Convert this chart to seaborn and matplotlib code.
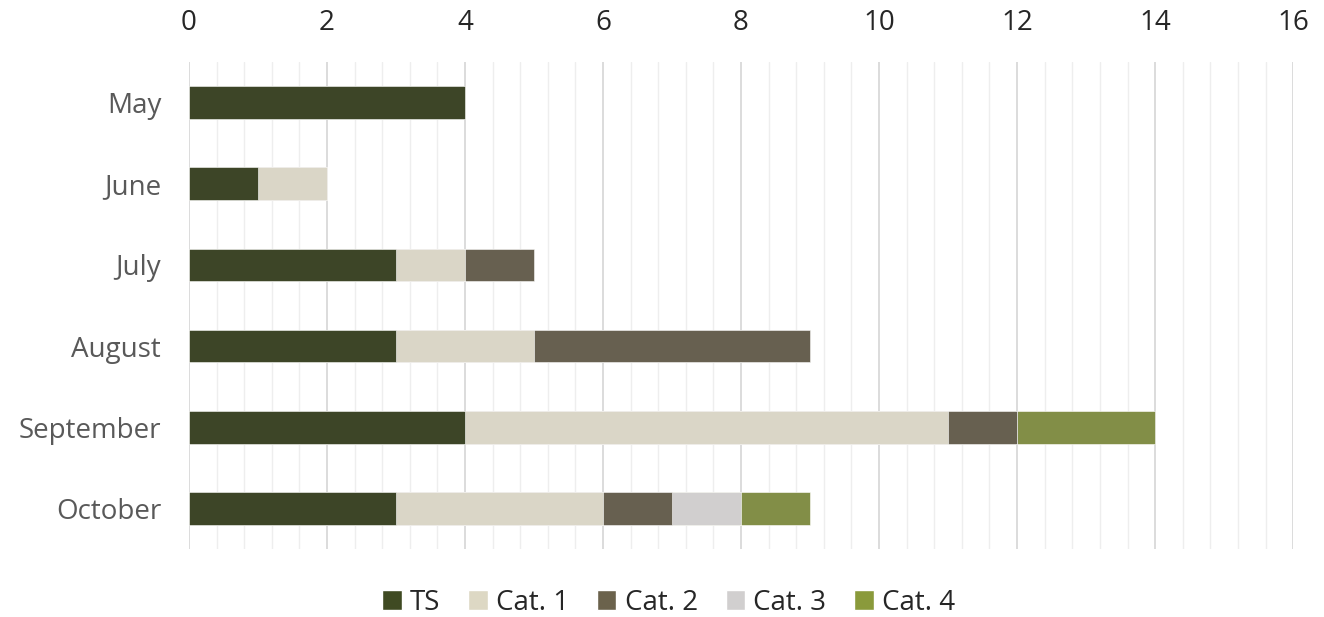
import numpy as np
import pandas as pd
import matplotlib
matplotlib.use('Agg')
import matplotlib.pyplot as plt
import seaborn as sns
from matplotlib.patches import Patch

# DATA
months = ['May', 'June', 'July', 'August', 'September', 'October']
series = ['TS', 'Cat. 1', 'Cat. 2', 'Cat. 3', 'Cat. 4']
ts = [4, 1, 3, 3, 4, 3]
cat1 = [0, 1, 1, 2, 7, 3]
cat2 = [0, 0, 1, 4, 1, 1]
cat3 = [0, 0, 0, 0, 0, 1]
cat4 = [0, 0, 0, 0, 2, 1]
colors = ['#3f4a22', '#ddd8c4', '#6b624c', '#d1cfcf', '#8a9a3b']

sns.set_style('white')
plt.rcParams['font.family'] = ['Open Sans', 'DejaVu Sans']

df = pd.DataFrame({'month': months, 'TS': ts, 'Cat. 1': cat1,
                   'Cat. 2': cat2, 'Cat. 3': cat3, 'Cat. 4': cat4})
cum = df[series].cumsum(axis=1)

fig = plt.figure(figsize=(13.24, 6.17), dpi=100)
ax = fig.add_axes([0.1427, 0.110, 0.834, 0.790])

# draw cumulative totals from the back so each segment shows through
for s, c in reversed(list(zip(series, colors))):
    sns.barplot(x=cum[s], y=df['month'], orient='h', color=c,
                width=0.4, ax=ax, edgecolor='white', linewidth=0.4, zorder=3)

ax.set_xlim(0, 16)
ax.set_xticks(np.arange(0, 16.1, 2))
ax.set_xticks(np.arange(0, 16.1, 0.4), minor=True)
ax.xaxis.tick_top()
ax.tick_params(axis='x', which='both', length=0, pad=18, labelsize=20, labelcolor='#262626')
ax.tick_params(axis='y', length=0, pad=20, labelsize=20, labelcolor='#595959')
ax.grid(axis='x', which='major', color='#d9d9d9', linewidth=1.3, zorder=0)
ax.grid(axis='x', which='minor', color='#eeeeee', linewidth=1.0, zorder=0)
ax.set_axisbelow(True)
for sp in ax.spines.values():
    sp.set_visible(False)
ax.set_xlabel('')
ax.set_ylabel('')

handles = [Patch(facecolor=c, label=s) for s, c in zip(series, colors)]
fig.legend(handles=handles, loc='lower center', bbox_to_anchor=(0.505, -0.024),
           ncol=5, frameon=False, fontsize=20, handlelength=0.7, handleheight=0.7,
           handletextpad=0.3, columnspacing=1.0, borderpad=0.05,
           labelcolor='#262626')

fig.savefig('out.png', dpi=100)
